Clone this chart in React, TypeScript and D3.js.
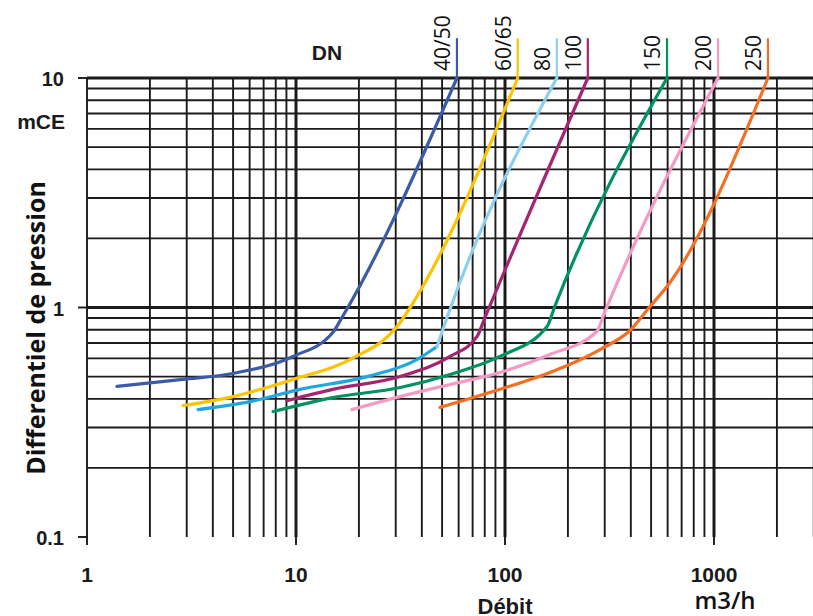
import React from 'react';
import * as d3 from 'd3';

// DN sizes and their curves (flow m3/h, pressure differential mCE)
const dnLabels = ['40/50', '60/65', '80', '100', '150', '200', '250'];
const dnColors = ['#3b5ba6', '#fbc300', '#1ea8df', '#a5256f', '#00935f', '#f49ac4', '#f36f22'];

const flow4050 = [1.39, 2.88, 5.0, 9.67, 15.0, 16.6, 58.9];
const dp4050 = [0.453, 0.486, 0.516, 0.612, 0.778, 0.905, 10];

const flow6065 = [2.88, 5.0, 9.67, 18.1, 31.5, 35.9, 115];
const dp6065 = [0.374, 0.409, 0.486, 0.593, 0.86, 1.03, 10];

const flow80 = [3.4, 6.02, 10.45, 21.9, 37.9, 47.3, 52.8, 177];
const dp80 = [0.359, 0.389, 0.44, 0.5, 0.593, 0.676, 0.905, 10];

const flow100 = [9.06, 15.0, 31.5, 54.6, 73.5, 80.2, 249];
const dp100 = [0.393, 0.44, 0.5, 0.612, 0.748, 0.905, 10];

const flow150 = [7.77, 15.0, 31.5, 54.6, 94.6, 159, 173, 596];
const dp150 = [0.352, 0.405, 0.448, 0.511, 0.612, 0.827, 1.01, 10];

const flow200 = [18.5, 31.5, 54.6, 94.6, 164, 275, 298, 1045];
const dp200 = [0.359, 0.409, 0.462, 0.521, 0.624, 0.786, 0.94, 10];

const flow250 = [48.9, 94.6, 164, 285, 396, 494, 596, 1812];
const dp250 = [0.367, 0.44, 0.521, 0.656, 0.794, 1.01, 1.235, 10];

// DN 80 is printed in two blues: deep on the flat part, pale on the steep part
const dn80Knee = 5;
const dn80Upper = '#8ecff0';

const xTicks = [1, 10, 100, 1000];
const yTicks = [0.1, 1, 10];

const flows = [flow4050, flow6065, flow80, flow100, flow150, flow200, flow250];
const dps = [dp4050, dp6065, dp80, dp100, dp150, dp200, dp250];

const W = 813;
const H = 616;
const left = 87;
const top = 78;
const bottom = 537;
const decade = 209;

export default function App() {
  const x = d3.scaleLog().domain([1, 3000]).range([left, left + decade * Math.log10(3000)]);
  const y = d3.scaleLog().domain([0.1, 10]).range([bottom, top]);

  const data = dnLabels.map((label, i) => ({
    label,
    color: dnColors[i],
    points: flows[i].map((f, j) => [f, dps[i][j]] as [number, number]),
  }));

  const line = d3
    .line<[number, number]>()
    .x((d) => x(d[0]))
    .y((d) => y(d[1]))
    .curve(d3.curveMonotoneX);

  const isMajor = (v: number) => Math.abs(Math.log10(v) - Math.round(Math.log10(v))) < 1e-6;

  const vGrid = x.ticks();
  const hGrid = y.ticks().filter((v) => v > 0.1 + 1e-9);

  const tickFont = '"Liberation Sans", Arial, sans-serif';

  return (
    <div style={{ position: 'absolute', left: 0, top: 0 }}>
      <svg width={W} height={H} style={{ display: 'block', background: '#fff' }}>
        {/* grid */}
        <g stroke="#1c1a1a">
          {hGrid.map((v) => (
            <line
              key={'h' + v}
              x1={left}
              x2={W}
              y1={y(v)}
              y2={y(v)}
              strokeWidth={isMajor(v) ? 3 : 1.9}
            />
          ))}
          {vGrid.map((v) => (
            <line
              key={'v' + v}
              x1={x(v)}
              x2={x(v)}
              y1={top}
              y2={bottom}
              strokeWidth={isMajor(v) && v > 1 ? 3 : 1.9}
            />
          ))}
        </g>

        {/* axis ticks */}
        <g stroke="#1c1a1a" strokeWidth={1.9}>
          {yTicks.map((v) => (
            <line key={'yt' + v} x1={left - 9} x2={left} y1={y(v)} y2={y(v)} />
          ))}
          {xTicks.map((v) => (
            <line key={'xt' + v} x1={x(v)} x2={x(v)} y1={bottom} y2={bottom + 8} />
          ))}
        </g>

        <g fontFamily={tickFont} fontWeight="bold" fill="#1a1a1a">
          {yTicks.map((v) => (
            <text key={'yl' + v} x={64} y={y(v) + 8} fontSize={20} textAnchor="end">
              {d3.format('~g')(v)}
            </text>
          ))}
          {xTicks.map((v) => (
            <text key={'xl' + v} x={x(v)} y={582} fontSize={21} textAnchor="middle">
              {v}
            </text>
          ))}
          <text x={65} y={129} fontSize={21} textAnchor="end">
            mCE
          </text>
          <text x={327} y={60} fontSize={21} textAnchor="middle">
            DN
          </text>
        </g>

        {/* curves */}
        <g fill="none" strokeLinejoin="round" strokeLinecap="round">
          {data.map((s) => {
            const last = s.points[s.points.length - 1];
            const lx = x(last[0]);
            return (
              <g key={s.label}>
                {s.label === '80' ? (
                  <>
                    <path d={line(s.points.slice(0, dn80Knee + 1))!} stroke={s.color} strokeWidth={3.2} />
                    <path d={line(s.points.slice(dn80Knee))!} stroke={dn80Upper} strokeWidth={3.2} />
                    <line x1={lx} x2={lx} y1={y(10)} y2={39} stroke={dn80Upper} strokeWidth={2.2} />
                  </>
                ) : (
                  <>
                    <path d={line(s.points)!} stroke={s.color} strokeWidth={3.2} />
                    <line x1={lx} x2={lx} y1={y(10)} y2={39} stroke={s.color} strokeWidth={2.2} />
                  </>
                )}
                <text
                  transform={`translate(${lx - 7},71) rotate(-90)`}
                  fontFamily='"Open Sans", sans-serif'
                  fontSize={21}
                  fill="#111"
                  stroke="none"
                >
                  {s.label}
                </text>
              </g>
            );
          })}
        </g>

        {/* axis titles */}
        <text
          transform={`translate(45,${328}) rotate(-90)`}
          textAnchor="middle"
          fontFamily='"Open Sans", sans-serif'
          fontWeight="bold"
          fontSize={25}
          fill="#111"
        >
          Differentiel de pression
        </text>
        <text x={505} y={614} textAnchor="middle" fontFamily={tickFont} fontWeight="bold" fontSize={22} fill="#1a1a1a">
          Débit
        </text>
        <text x={725} y={609} textAnchor="middle" fontFamily='"Open Sans", sans-serif' fontWeight={600} fontSize={24} fill="#111">
          m3/h
        </text>
      </svg>
    </div>
  );
}
